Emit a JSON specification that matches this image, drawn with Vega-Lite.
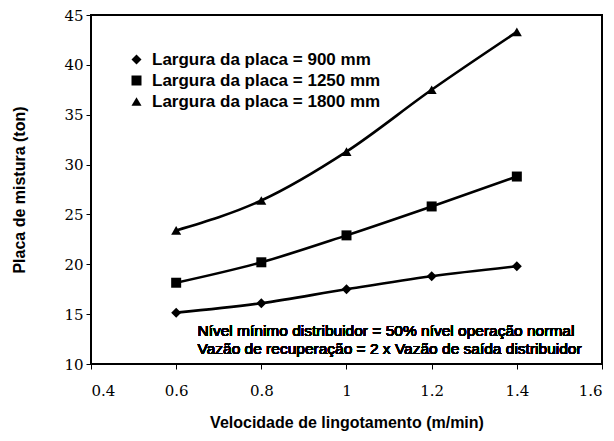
{
  "$schema": "https://vega.github.io/schema/vega-lite/v6.json",
  "width": 511,
  "height": 349,
  "autosize": {"type": "none"},
  "padding": {"left": 91, "top": 15, "right": 12, "bottom": 77},
  "background": "white",
  "config": {
    "view": {"stroke": "black", "strokeWidth": 2},
    "axis": {
      "domain": false,
      "grid": false,
      "ticks": true,
      "tickColor": "black",
      "tickSize": 5,
      "tickWidth": 1,
      "labelFont": "DejaVu Serif",
      "labelFontSize": 15,
      "labelColor": "black",
      "titleFont": "Liberation Sans",
      "titleFontSize": 16,
      "titleFontWeight": "bold",
      "titleColor": "black"
    },
    "legend": {
      "orient": "none",
      "legendX": 37,
      "legendY": 36,
      "title": null,
      "labelFont": "Liberation Sans",
      "labelFontSize": 17,
      "labelFontWeight": "bold",
      "labelColor": "black",
      "labelLimit": 400,
      "labelOffset": 7,
      "rowPadding": 3,
      "symbolSize": 100,
      "symbolFillColor": "black",
      "symbolStrokeColor": "black",
      "symbolStrokeWidth": 0
    }
  },
  "data": {
    "values": [
      {"v": 0.6, "m": 15.15, "s": "Largura da placa = 900 mm"},
      {"v": 0.8, "m": 16.1, "s": "Largura da placa = 900 mm"},
      {"v": 1.0, "m": 17.5, "s": "Largura da placa = 900 mm"},
      {"v": 1.2, "m": 18.8, "s": "Largura da placa = 900 mm"},
      {"v": 1.4, "m": 19.8, "s": "Largura da placa = 900 mm"},
      {"v": 0.6, "m": 18.15, "s": "Largura da placa = 1250 mm"},
      {"v": 0.8, "m": 20.2, "s": "Largura da placa = 1250 mm"},
      {"v": 1.0, "m": 22.9, "s": "Largura da placa = 1250 mm"},
      {"v": 1.2, "m": 25.8, "s": "Largura da placa = 1250 mm"},
      {"v": 1.4, "m": 28.8, "s": "Largura da placa = 1250 mm"},
      {"v": 0.6, "m": 23.4, "s": "Largura da placa = 1800 mm"},
      {"v": 0.8, "m": 26.4, "s": "Largura da placa = 1800 mm"},
      {"v": 1.0, "m": 31.3, "s": "Largura da placa = 1800 mm"},
      {"v": 1.2, "m": 37.5, "s": "Largura da placa = 1800 mm"},
      {"v": 1.4, "m": 43.3, "s": "Largura da placa = 1800 mm"}
    ]
  },
  "layer": [
    {
      "mark": {"type": "line", "interpolate": "monotone", "strokeWidth": 2.6, "color": "black"},
      "encoding": {
        "x": {
          "field": "v", "type": "quantitative",
          "scale": {"domain": [0.4, 1.6], "nice": false, "zero": false},
          "axis": {"values": [0.4, 0.6, 0.8, 1, 1.2, 1.4, 1.6], "format": "~g", "labelPadding": 14, "title": "Velocidade de lingotamento (m/min)", "titlePadding": 16}
        },
        "y": {
          "field": "m", "type": "quantitative",
          "scale": {"domain": [10, 45], "nice": false, "zero": false},
          "axis": {"values": [10, 15, 20, 25, 30, 35, 40, 45], "labelPadding": 3, "title": "Placa de mistura (ton)", "titlePadding": 36}
        },
        "detail": {"field": "s"}
      }
    },
    {
      "mark": {"type": "point", "filled": true, "opacity": 1, "color": "black", "size": 100},
      "encoding": {
        "x": {"field": "v", "type": "quantitative"},
        "y": {"field": "m", "type": "quantitative"},
        "shape": {
          "field": "s", "type": "nominal",
          "scale": {
            "domain": ["Largura da placa = 900 mm", "Largura da placa = 1250 mm", "Largura da placa = 1800 mm"],
            "range": ["diamond", "square", "triangle-up"]
          }
        }
      }
    },
    {
      "mark": {
        "type": "text",
        "align": "left",
        "baseline": "middle",
        "font": "Liberation Sans",
        "fontSize": 15.5,
        "fontWeight": "normal",
        "lineHeight": 18,
        "fill": "black",
        "text": ["Nível mínimo distribuidor = 50% nível operação normal", "Vazão de recuperação = 2 x Vazão de saída distribuidor"]
      },
      "encoding": {
        "x": {"datum": 0.65},
        "y": {"datum": 13.3}
      }
    }
  ]
}
